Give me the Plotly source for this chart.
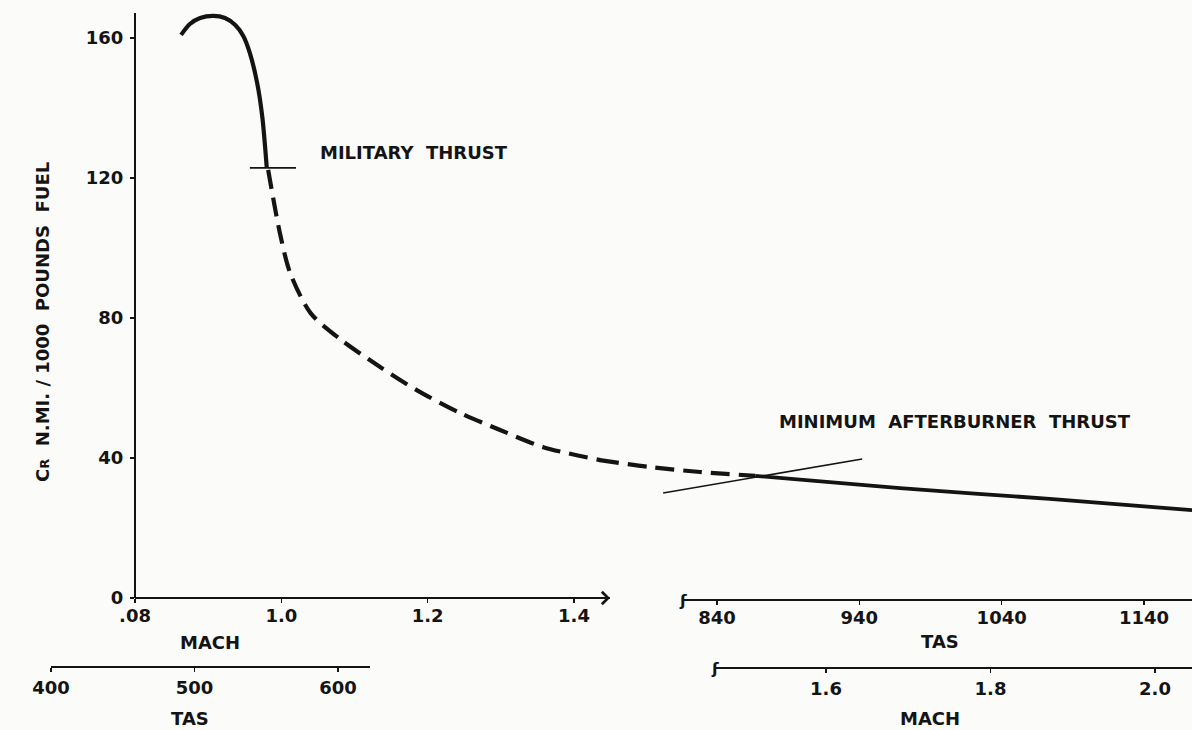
import plotly.graph_objects as go

# ---------------- data ----------------
# Military thrust, solid part (lower Mach scale, C_R)
mil_mach = [0.863, 0.875, 0.889, 0.907, 0.923, 0.937, 0.948, 0.957, 0.967, 0.974, 0.980]
mil_cr = [160.9, 164.0, 165.7, 166.3, 165.7, 163.7, 160.6, 155.7, 147.1, 137.4, 123.1]

# Transition (dashed) – left part on lower Mach scale
trans_mach = [0.982, 0.998, 1.012, 1.040, 1.082, 1.135, 1.185, 1.244, 1.299, 1.358, 1.436]
trans_cr = [122.3, 104.3, 92.9, 81.4, 73.7, 66.0, 59.4, 52.9, 48.0, 43.1, 39.4]

# Transition (dashed) – right part on upper Mach scale
trans2_mach = [1.325, 1.386, 1.447, 1.514]
trans2_cr = [39.4, 37.4, 36.0, 34.9]

# Minimum afterburner thrust (solid, upper Mach scale)
ab_mach = [1.514, 1.690, 1.872, 2.045]
ab_cr = [34.9, 31.4, 28.3, 25.1]

# Limit marks
mil_mark_mach = [0.957, 1.020]
mil_mark_cr = [122.9, 122.9]
ab_mark_mach = [1.402, 1.644]
ab_mark_cr = [30.0, 39.7]

# Axis ticks
cr_ticks = [0, 40, 80, 120, 160]
mach_lo_ticks = [0.8, 1.0, 1.2, 1.4]
mach_lo_labels = [".08", "1.0", "1.2", "1.4"]
tas_lo_ticks = [400, 500, 600]
tas_hi_ticks = [840, 940, 1040, 1140]
mach_hi_ticks = [1.6, 1.8, 2.0]
mach_hi_labels = ["1.6", "1.8", "2.0"]

# ---------------- styling ----------------
INK = "#141414"
FONT = dict(family="DejaVu Sans", size=18, color=INK, weight="bold")
W, H = 1192, 730

fig = go.Figure()

def line(x, y, xa, width, dash="solid"):
    fig.add_trace(go.Scatter(
        x=x, y=y, xaxis=xa, yaxis="y", mode="lines",
        line=dict(color=INK, width=width, dash=dash, shape="spline", smoothing=0.8),
        hoverinfo="skip", showlegend=False))

line(mil_mach, mil_cr, "x", 4.2)
line(trans_mach, trans_cr, "x", 4.2, "19px,9px")
line(trans2_mach, trans2_cr, "x2", 4.2, "19px,9px")
line(ab_mach, ab_cr, "x2", 3.8)
line(mil_mark_mach, mil_mark_cr, "x", 1.6)
line(ab_mark_mach, ab_mark_cr, "x2", 1.6)

# invisible anchors so the decorative axes are drawn
for xa, xv in [("x3", mach_lo_ticks), ("x4", tas_lo_ticks), ("x5", tas_hi_ticks), ("x6", mach_hi_ticks)]:
    fig.add_trace(go.Scatter(x=xv[:1], y=[0], xaxis=xa, yaxis="y2", mode="markers",
                             marker=dict(opacity=0), hoverinfo="skip", showlegend=False))

def px_x(p):
    return p / W

def px_y(p):
    return 1 - p / H

axis_common = dict(showline=True, linecolor=INK, linewidth=2.2, ticks="outside",
                   ticklen=4, tickwidth=1.6, tickcolor=INK, showgrid=False,
                   zeroline=False, tickfont=FONT, fixedrange=True, automargin=False)

fig.update_layout(
    template="none",
    width=W, height=H, autosize=False,
    margin=dict(l=0, r=0, t=0, b=0, pad=0),
    paper_bgcolor="#fbfbfa", plot_bgcolor="rgba(0,0,0,0)",
    showlegend=False,
    font=FONT,
    xaxis=dict(domain=[0, 1], range=[0.8 - 135 / 731.7, 0.8 + (W - 135) / 731.7], visible=False,
               fixedrange=True, automargin=False),
    xaxis2=dict(domain=[0, 1], range=[1.6 - 826 / 822.5, 1.6 + (W - 826) / 822.5], overlaying="x",
                visible=False, fixedrange=True, automargin=False),
    yaxis=dict(domain=[0, 1], range=[(598 - H) / 3.5, 598 / 3.5], visible=False, fixedrange=True,
               automargin=False),
    yaxis2=dict(domain=[px_y(598), px_y(13)], range=[0, (598 - 13) / 3.5], anchor="free",
                position=px_x(135), tickvals=cr_ticks, ticklabelstandoff=3, **axis_common),
    xaxis3=dict(domain=[px_x(135), px_x(610)], range=[0.8, 0.8 + 475 / 731.7], anchor="free",
                position=px_y(598), tickvals=mach_lo_ticks, ticktext=mach_lo_labels,
                ticklabelstandoff=-3, **axis_common),
    xaxis4=dict(domain=[px_x(51), px_x(370)], range=[400, 400 + 319 / 1.435], anchor="free",
                position=px_y(667), tickvals=tas_lo_ticks, ticklabelstandoff=0, **axis_common),
    xaxis5=dict(domain=[px_x(683), 1], range=[840 - 34 / 1.4233, 840 + (W - 717) / 1.4233], anchor="free",
                position=px_y(600), tickvals=tas_hi_ticks, ticklabelstandoff=-3, **axis_common),
    xaxis6=dict(domain=[px_x(715), 1], range=[1.6 - 111 / 822.5, 1.6 + (W - 826) / 822.5], anchor="free",
                position=px_y(668), tickvals=mach_hi_ticks, ticktext=mach_hi_labels,
                ticklabelstandoff=0, **axis_common),
)

def label(text, x, y, xanchor="center", angle=0, size=18):
    f = dict(FONT)
    f["size"] = size
    fig.add_annotation(text=text, x=px_x(x), y=px_y(y), xref="paper", yref="paper",
                       xanchor=xanchor, yanchor="middle", showarrow=False,
                       font=f, textangle=angle)

label("MILITARY\u00a0\u00a0THRUST", 318, 153, xanchor="left")
label("MINIMUM\u00a0\u00a0AFTERBURNER\u00a0\u00a0THRUST", 777, 421, xanchor="left")
label("MACH", 210, 642)
label("TAS", 190, 718)
label("TAS", 940, 641)
label("MACH", 930, 718)
label("C<span style='font-size:13px'>R</span>\u00a0\u00a0N.MI.\u00a0/\u00a01000\u00a0\u00a0POUNDS\u00a0\u00a0FUEL",
      42, 322, angle=-90, size=18)
# axis break marks
label("ʃ", 683, 600, size=16)
label("ʃ", 715, 668, size=16)

# arrow at the end of the lower Mach axis
fig.add_annotation(x=0.8 + 475 / 731.7, y=0, xref="x3", yref="y2", ax=-16, ay=0,
                   showarrow=True, arrowhead=4, arrowsize=1.2, arrowwidth=2, arrowcolor=INK, text="")

fig.write_html("out.html", config={"displayModeBar": False, "staticPlot": True},
               post_script="document.body.style.margin='0';document.body.style.overflow='hidden';")
